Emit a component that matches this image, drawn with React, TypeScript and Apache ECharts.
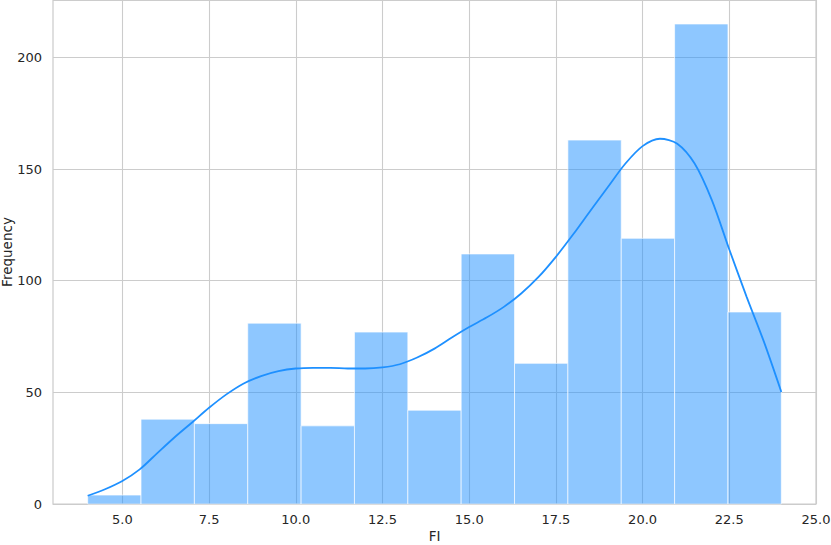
import React, { useEffect, useRef } from "react";
import * as echarts from "echarts";

const binEdges = [4.0, 5.538, 7.077, 8.615, 10.154, 11.692, 13.231, 14.769, 16.308, 17.846, 19.385, 20.923, 22.462, 24.0];
const counts = [4, 38, 36, 81, 35, 77, 42, 112, 63, 163, 119, 215, 86];
const kdeX = [4.0, 4.5, 5.0, 5.5, 6.0, 6.5, 7.0, 7.5, 8.0, 8.5, 9.0, 9.5, 10.0, 10.5, 11.0, 11.5, 12.0, 12.5, 13.0, 13.5, 14.0, 14.5, 15.0, 15.5, 16.0, 16.5, 17.0, 17.5, 18.0, 18.5, 19.0, 19.5, 20.0, 20.5, 21.0, 21.5, 22.0, 22.5, 23.0, 23.5, 24.0];
const kdeY = [3.7, 6.6, 10.3, 15.5, 22.7, 29.8, 36.4, 43.1, 49.1, 54, 57.3, 59.5, 60.7, 61, 61, 60.7, 60.7, 61.2, 62.6, 65.6, 69.6, 74.6, 79.3, 83.5, 88.3, 94.3, 101.7, 110.7, 120.8, 131.5, 142, 152.4, 160.3, 163.6, 161.4, 152.5, 136, 114, 92.8, 72.6, 50.2];
const xTicks = [5.0, 7.5, 10.0, 12.5, 15.0, 17.5, 20.0, 22.5, 25.0];

const FONT = "DejaVu Sans";

export default function App() {
  const ref = useRef<HTMLDivElement>(null);
  useEffect(() => {
    document.body.style.margin = "0";
    const chart = echarts.init(ref.current!, undefined, { renderer: "svg" });
    const histData = counts.map((c, i) => [binEdges[i], binEdges[i + 1], c]);
    chart.setOption({
      animation: false,
      backgroundColor: "#ffffff",
      grid: {
        left: 53,
        right: 15,
        top: 0,
        bottom: 41,
        outerBoundsMode: "none",
        containLabel: false,
        show: true,
        borderColor: "#cccccc",
        borderWidth: 1.25,
        backgroundColor: "transparent",
      },
      xAxis: {
        type: "value",
        min: 3,
        max: 25,
        name: "FI",
        nameLocation: "middle",
        nameGap: 25,
        nameMoveOverlap: false,
        nameTextStyle: { fontFamily: FONT, fontSize: 13.5, color: "#262626" },
        axisLine: { show: false },
        axisTick: { show: false, customValues: xTicks },
        axisLabel: {
          customValues: xTicks,
          formatter: (v: number) => v.toFixed(1),
          fontFamily: FONT,
          fontSize: 13,
          color: "#262626",
          margin: 9,
        },
        splitLine: { show: true, lineStyle: { color: "#cccccc", width: 1.1 } },
      },
      yAxis: {
        type: "value",
        min: 0,
        max: 225.75,
        interval: 50,
        name: "Frequency",
        nameLocation: "middle",
        nameGap: 39,
        nameMoveOverlap: false,
        nameTextStyle: { fontFamily: FONT, fontSize: 13.5, color: "#262626" },
        axisLine: { show: false },
        axisTick: { show: false },
        axisLabel: {
          fontFamily: FONT,
          fontSize: 13,
          color: "#262626",
          margin: 11,
          showMaxLabel: false,
        },
        splitLine: { show: true, lineStyle: { color: "#cccccc", width: 1.1 } },
      },
      series: [
        {
          type: "custom",
          data: histData,
          encode: { x: [0, 1], y: 2 },
          renderItem: (params: any, api: any) => {
            const p0 = api.coord([api.value(0), api.value(2)]);
            const p1 = api.coord([api.value(1), 0]);
            return {
              type: "rect",
              shape: { x: p0[0], y: p0[1], width: p1[0] - p0[0], height: p1[1] - p0[1] },
              style: {
                fill: "rgba(30,144,255,0.5)",
                stroke: "rgba(255,255,255,0.65)",
                lineWidth: 1,
              },
            };
          },
          z: 2,
        },
        {
          type: "line",
          data: kdeX.map((x, i) => [x, kdeY[i]]),
          smooth: 0.3,
          showSymbol: false,
          lineStyle: { color: "#1e90ff", width: 1.8 },
          z: 3,
        },
      ],
    });
    return () => chart.dispose();
  }, []);
  return (
    <div
      ref={ref}
      style={{ position: "absolute", left: 0, top: 0, width: 831, height: 545 }}
    />
  );
}
